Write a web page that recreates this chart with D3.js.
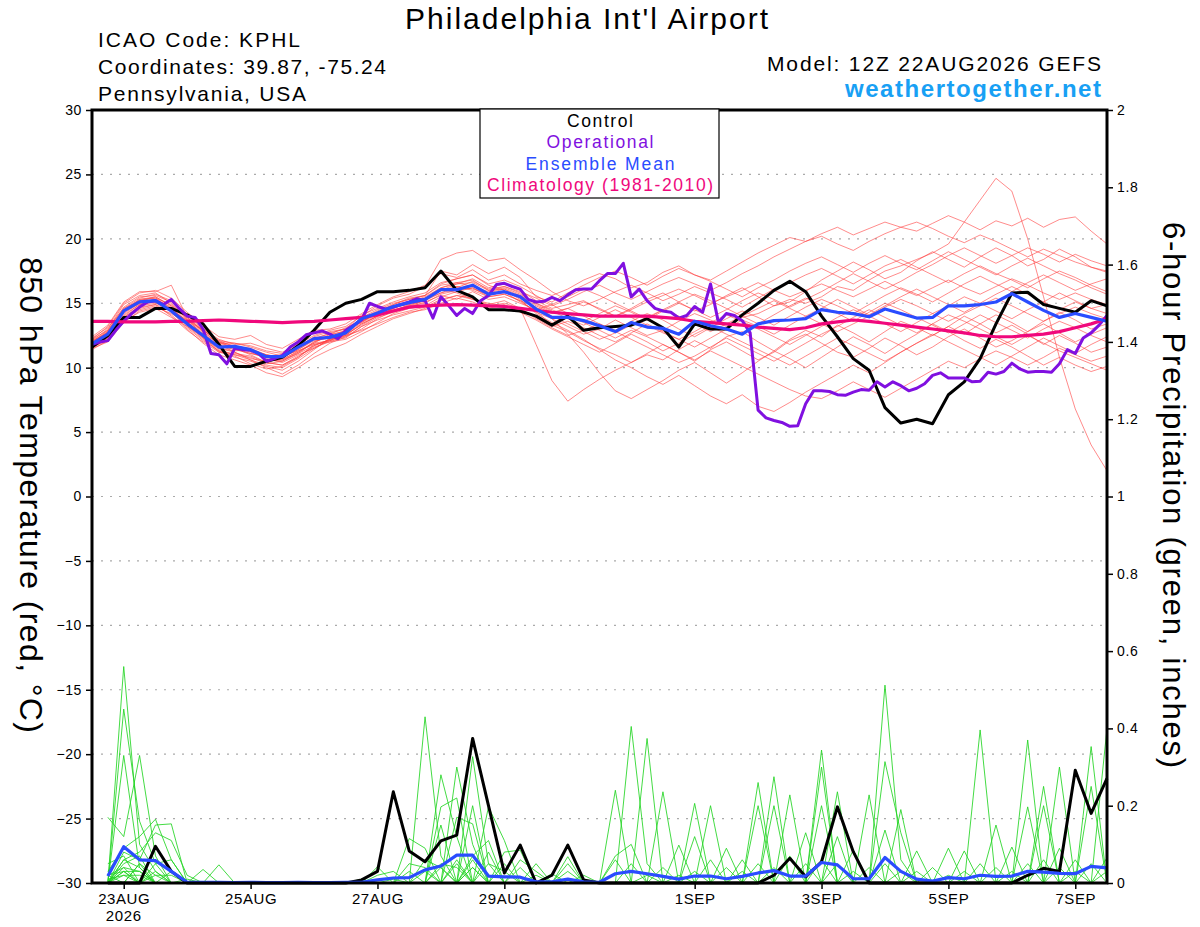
<!DOCTYPE html>
<html>
<head>
<meta charset="utf-8">
<script src="https://cdnjs.cloudflare.com/ajax/libs/d3/7.8.5/d3.min.js"></script>
<style>
  body { margin: 0; background: #fff; }
  svg { font-family: "Liberation Sans", Arial, Helvetica, sans-serif; }
</style>
</head>
<body>
<div id="chart"></div>
<script>
// ---- data: GEFS 12Z 22AUG2026, Philadelphia (KPHL) ----
// temperature series are 6-hourly from 12Z 22AUG (65 values), operational is 3-hourly (129 values)
// precipitation series are 6-hour totals ending at +6h ... +384h (64 values)

const controlTemp = [11.6, 12.5, 13.9, 13.9, 14.6, 14.6, 14.1, 13.4, 11.8,
  10.1, 10.1, 10.5, 10.8, 11.7, 12.9, 14.3, 15.0,
  15.3, 15.9, 15.9, 16.0, 16.2, 17.5, 16.0, 15.5, 14.5, 14.5, 14.4, 14.0,
  13.3, 14.0, 12.9, 13.1, 13.2, 13.3, 13.8, 13.1, 11.6, 13.4, 13.0, 13.0, 14.1, 15.0, 16.0, 16.7, 15.9,
  14.0, 12.4, 10.7, 9.8, 6.9, 5.7, 6.0, 5.65, 7.9, 8.9, 10.7, 13.4, 15.8, 15.85, 14.9, 14.6, 14.3, 15.2, 14.8];

const meanTemp = [11.85, 12.6, 14.4, 15.1, 15.2, 14.4, 13.4, 12.5, 11.6,
  11.65, 11.4, 10.85, 10.85, 11.6, 12.25, 12.35, 12.7,
  13.8, 14.25, 14.75, 15.05, 15.3, 16.05, 16.05, 16.4, 15.7, 15.9, 15.5, 14.55,
  13.9, 13.9, 13.65, 13.25, 12.8, 13.5, 13.15, 13.05, 12.6, 13.6, 13.25, 13.0, 12.6, 13.4, 13.65, 13.7, 13.8,
  14.5, 14.3, 14.2, 13.95, 14.55, 14.2, 13.85, 13.9, 14.8, 14.8, 14.9, 15.1, 15.75, 15.1, 14.45, 13.9, 14.2, 13.9, 13.6];

const climoTemp = [13.6, 13.6, 13.55, 13.55, 13.55, 13.6, 13.6, 13.65, 13.7,
  13.65, 13.6, 13.55, 13.5, 13.55, 13.6, 13.7, 13.8,
  13.9, 14.1, 14.4, 14.7, 14.8, 14.85, 14.9, 14.85, 14.8, 14.75, 14.6, 14.45,
  14.3, 14.2, 14.1, 14.0, 14.0, 14.0, 14.0, 13.9, 13.8, 13.6, 13.5, 13.4, 13.3, 13.15, 13.05, 12.95, 13.1,
  13.4, 13.55, 13.7, 13.6, 13.45, 13.3, 13.15, 13.0, 12.85, 12.7, 12.5, 12.4, 12.4, 12.5, 12.6, 12.8, 13.1, 13.4, 13.8];

const operTemp = [11.8, 12.0, 12.1, 12.9, 13.6, 14.2, 14.7, 15.1, 15.2, 14.9,
  15.3, 14.6, 14.0, 13.9, 13.0, 11.1, 11.0, 10.3, 11.5, 11.4,
  11.35, 11.1, 10.5, 10.7, 10.95, 11.6, 12.0, 12.55, 12.7, 12.85,
  12.6, 12.25, 12.9, 13.3, 13.7, 15.0, 14.75, 14.55, 14.7, 14.9,
  15.1, 15.35, 15.2, 13.85, 15.5, 14.8, 14.05, 14.6, 14.2, 15.2,
  15.6, 16.45, 16.55, 16.3, 16.1, 15.3, 15.1, 15.15, 15.45, 15.2,
  15.65, 16.05, 16.1, 16.1, 16.75, 17.3, 17.3, 18.1, 15.5, 16.1,
  15.2, 14.6, 14.4, 14.3, 13.85, 14.05, 14.75, 14.3, 16.5, 13.5,
  14.2, 14.05, 13.65, 12.7, 6.7, 6.1, 5.9, 5.75, 5.45, 5.5,
  7.2, 8.2, 8.2, 8.15, 7.9, 7.85, 8.1, 8.3, 8.25, 8.9,
  8.5, 8.9, 8.6, 8.2, 8.4, 8.75, 9.4, 9.6, 9.2, 9.2,
  9.2, 8.9, 8.95, 9.65, 9.5, 9.7, 10.35, 9.9, 9.65, 9.7,
  9.7, 9.65, 10.3, 11.4, 11.1, 12.3, 12.7, 13.3, 14.05];

// ensemble members, 850 hPa temperature (C)
const tempMember01 = [12.1, 13.0, 14.9, 15.6, 15.8, 15.0, 13.8, 12.9, 12.0, 11.5, 11.0, 10.4, 10.2, 10.9, 11.6, 12.0, 12.5, 13.4, 14.0, 14.6, 15.0, 15.4, 16.0, 16.5, 16.9, 16.2, 16.5, 16.0, 15.2, 14.6, 14.9, 15.2, 14.5, 14.0, 14.6, 15.3, 15.8, 15.1, 14.4, 14.9, 15.6, 16.2, 15.5, 14.8, 15.1, 15.9, 16.8, 17.5, 18.2, 17.6, 16.9, 17.4, 18.3, 19.0, 18.4, 17.8, 18.6, 19.3, 18.7, 17.9, 18.4, 19.2, 18.6, 17.8, 17.5];
const tempMember02 = [11.7, 12.3, 13.9, 14.8, 15.0, 14.5, 13.6, 12.4, 11.2, 10.9, 10.3, 9.9, 10.1, 10.8, 11.8, 12.1, 12.6, 13.5, 14.3, 14.7, 14.9, 15.2, 16.1, 15.8, 15.3, 15.0, 14.8, 14.6, 11.8, 9.0, 7.4, 8.3, 9.1, 9.8, 10.4, 11.0, 10.6, 11.4, 12.1, 11.5, 12.4, 12.8, 12.0, 11.3, 12.2, 12.9, 12.4, 13.3, 12.7, 12.0, 12.8, 13.6, 13.1, 12.5, 13.2, 14.0, 13.4, 12.7, 13.3, 12.6, 11.8, 12.5, 11.9, 11.2, 11.6];
const tempMember03 = [12.0, 12.8, 14.5, 15.3, 15.5, 14.8, 13.9, 12.8, 11.8, 11.2, 10.6, 10.0, 9.5, 10.2, 11.1, 11.9, 12.4, 13.0, 13.8, 14.4, 14.9, 15.2, 15.8, 16.3, 16.0, 15.5, 15.7, 15.2, 14.3, 13.8, 13.2, 12.6, 13.0, 13.7, 13.1, 12.5, 12.9, 13.6, 14.2, 13.7, 13.2, 13.9, 14.2, 14.8, 15.3, 15.0, 15.5, 16.3, 16.0, 16.8, 17.5, 17.9, 18.4, 18.9, 19.6, 21.3, 23.0, 24.7, 23.7, 20.0, 15.5, 10.8, 6.8, 4.0, 2.0];
const tempMember04 = [12.2, 13.2, 15.0, 15.8, 16.0, 15.4, 14.3, 13.3, 12.4, 12.2, 12.5, 11.8, 11.5, 12.2, 12.9, 13.0, 13.4, 14.2, 14.9, 15.5, 15.9, 16.4, 17.3, 17.0, 17.6, 16.8, 17.2, 16.5, 16.0, 15.6, 16.1, 16.8, 17.3, 16.9, 16.2, 16.6, 17.4, 17.9, 17.2, 16.8, 17.5, 18.2, 18.9, 19.5, 20.1, 19.8, 20.4, 20.9, 20.3, 20.8, 21.3, 20.9, 20.6, 21.2, 21.8, 21.3, 20.7, 21.4, 21.0, 21.6, 20.9, 21.5, 21.7, 20.6, 19.6];
const tempMember05 = [11.5, 12.0, 13.5, 14.4, 14.7, 14.2, 13.5, 12.6, 11.9, 11.9, 11.6, 11.2, 10.9, 11.3, 11.8, 12.0, 12.2, 12.8, 13.5, 14.2, 14.6, 14.8, 15.5, 15.9, 16.2, 15.6, 15.9, 15.1, 14.4, 13.3, 12.8, 12.1, 11.5, 11.0, 10.4, 11.1, 11.8, 11.2, 10.5, 11.4, 12.0, 11.3, 10.6, 11.2, 12.1, 12.6, 11.9, 11.2, 10.8, 11.5, 12.3, 11.7, 11.0, 11.6, 12.4, 13.0, 12.3, 11.6, 12.1, 12.8, 13.4, 12.7, 12.0, 12.6, 13.1];
const tempMember06 = [11.9, 12.5, 14.2, 15.0, 15.1, 14.3, 13.1, 12.1, 11.3, 10.8, 10.5, 10.1, 9.8, 10.5, 11.4, 12.3, 12.9, 13.9, 14.5, 15.0, 15.3, 15.6, 16.5, 16.9, 17.2, 16.4, 16.0, 15.3, 14.2, 13.5, 12.9, 12.2, 11.4, 10.6, 10.0, 9.3, 8.7, 9.4, 8.6, 7.8, 7.2, 7.9, 7.0, 6.6, 7.3, 8.1, 8.8, 9.5, 10.2, 9.6, 10.4, 11.2, 11.9, 12.5, 13.2, 12.6, 13.4, 14.1, 13.5, 12.8, 13.6, 14.3, 13.7, 13.0, 13.4];
const tempMember07 = [12.3, 13.1, 14.6, 15.2, 15.4, 14.6, 13.6, 12.7, 11.5, 11.3, 11.4, 10.6, 10.5, 11.1, 12.0, 12.5, 12.9, 13.8, 14.4, 14.9, 15.3, 15.6, 16.4, 16.6, 16.8, 16.0, 16.3, 15.8, 14.9, 14.3, 14.6, 14.0, 13.4, 12.9, 13.6, 14.2, 13.7, 13.0, 12.4, 13.1, 13.8, 14.4, 13.9, 13.3, 14.0, 14.7, 15.3, 14.8, 14.2, 14.9, 15.6, 16.2, 15.7, 15.1, 15.8, 16.5, 17.1, 16.5, 15.9, 16.6, 17.2, 16.6, 16.0, 16.5, 16.9];
const tempMember08 = [11.6, 12.4, 14.0, 14.9, 15.1, 14.5, 13.3, 12.3, 11.4, 11.0, 10.8, 10.3, 10.5, 11.2, 11.9, 12.1, 12.3, 13.2, 13.9, 14.3, 14.7, 15.1, 15.6, 15.3, 15.9, 15.3, 15.5, 15.0, 14.5, 14.9, 15.5, 16.1, 15.6, 15.0, 14.4, 13.8, 14.5, 15.1, 15.7, 15.2, 14.6, 14.0, 13.4, 14.1, 14.8, 15.4, 14.8, 14.2, 13.6, 14.3, 15.0, 14.5, 13.9, 13.3, 12.7, 13.4, 14.1, 13.5, 12.9, 12.3, 13.0, 13.6, 13.1, 12.5, 12.0];
const tempMember09 = [11.8, 12.2, 13.8, 14.6, 14.9, 14.4, 13.7, 12.9, 12.1, 11.6, 11.2, 10.7, 10.4, 11.0, 11.5, 12.1, 12.7, 13.6, 14.2, 14.8, 15.0, 15.3, 15.8, 16.1, 16.4, 15.8, 16.1, 15.4, 14.6, 13.8, 12.6, 11.2, 9.6, 8.2, 7.6, 8.3, 9.0, 9.8, 10.4, 9.6, 8.8, 9.6, 10.5, 11.3, 10.7, 10.0, 10.8, 11.6, 12.4, 11.8, 11.1, 11.9, 12.6, 13.4, 12.8, 12.1, 11.5, 12.2, 11.6, 10.9, 10.2, 10.8, 10.2, 9.7, 10.1];
const tempMember10 = [12.0, 12.9, 14.7, 15.5, 15.6, 15.1, 14.0, 13.0, 12.2, 11.8, 11.9, 11.5, 11.2, 11.8, 12.5, 12.9, 13.2, 14.0, 14.8, 15.4, 15.7, 16.3, 18.4, 18.9, 19.1, 18.3, 18.5, 17.6, 16.8, 15.9, 15.2, 14.8, 15.3, 15.9, 16.4, 15.8, 15.2, 15.7, 16.3, 15.8, 15.3, 14.7, 15.4, 16.1, 16.6, 17.2, 17.7, 17.1, 16.5, 17.2, 17.9, 18.4, 17.8, 17.2, 16.6, 17.3, 17.9, 17.3, 16.8, 16.2, 16.9, 17.5, 17.0, 16.4, 15.9];
const tempMember11 = [11.4, 12.1, 13.7, 14.5, 14.8, 14.1, 13.0, 11.9, 11.0, 10.6, 10.2, 9.6, 9.3, 10.0, 10.8, 11.4, 11.9, 12.6, 13.2, 13.8, 14.2, 14.6, 15.2, 15.6, 15.3, 14.9, 15.2, 14.6, 13.9, 13.2, 13.6, 13.1, 12.5, 12.0, 12.7, 13.4, 12.8, 12.2, 11.6, 12.3, 13.0, 13.7, 13.2, 12.6, 13.3, 14.0, 14.6, 15.3, 14.7, 14.1, 14.8, 15.5, 16.1, 15.5, 14.9, 14.3, 15.0, 15.7, 16.3, 15.7, 15.1, 14.5, 15.1, 14.6, 14.2];
const tempMember12 = [12.1, 12.7, 14.3, 15.0, 15.3, 14.7, 13.5, 12.6, 11.7, 11.4, 11.1, 10.8, 10.6, 11.3, 11.9, 12.6, 13.1, 13.7, 14.1, 14.6, 15.1, 15.3, 16.0, 16.2, 16.7, 16.1, 16.3, 15.9, 15.4, 14.8, 15.3, 15.9, 16.4, 15.8, 15.3, 15.9, 16.5, 17.0, 16.5, 16.0, 16.6, 17.3, 17.9, 18.6, 19.2, 19.8, 20.2, 19.6, 19.1, 19.8, 20.4, 20.9, 21.3, 20.8, 20.2, 19.7, 20.3, 19.8, 19.2, 18.6, 19.2, 18.7, 18.2, 17.8, 17.4];
const tempMember13 = [11.7, 12.6, 14.4, 15.3, 15.4, 14.9, 13.8, 12.5, 11.6, 11.5, 11.1, 10.9, 11.0, 11.6, 12.4, 12.8, 13.0, 13.5, 14.1, 14.5, 14.8, 15.2, 16.0, 16.3, 16.1, 15.7, 15.8, 15.6, 15.0, 14.4, 13.8, 13.3, 13.9, 14.5, 13.9, 13.3, 12.7, 12.2, 12.8, 13.5, 14.1, 13.6, 13.0, 12.4, 11.8, 12.5, 13.2, 13.9, 14.5, 14.0, 13.4, 12.8, 13.5, 14.2, 14.8, 15.5, 15.0, 14.4, 13.8, 14.5, 15.1, 15.8, 15.2, 14.6, 14.9];
const tempMember14 = [12.2, 12.9, 14.5, 15.1, 15.3, 14.4, 13.2, 12.2, 11.3, 11.0, 10.6, 10.2, 10.0, 10.7, 11.5, 12.2, 12.6, 13.3, 14.0, 14.6, 15.1, 15.5, 16.2, 16.6, 16.3, 15.9, 16.2, 15.7, 15.0, 14.5, 14.0, 13.5, 12.9, 12.3, 12.9, 12.4, 11.8, 11.2, 10.6, 11.3, 10.7, 10.1, 9.5, 8.9, 8.3, 7.8, 7.6, 8.2, 8.9, 8.3, 7.7, 8.4, 9.1, 9.8, 10.5, 10.0, 10.7, 11.3, 10.8, 10.2, 10.8, 11.5, 11.0, 10.5, 10.9];
const tempMember15 = [11.9, 12.8, 14.6, 15.4, 15.7, 15.2, 14.1, 13.1, 12.0, 11.7, 11.3, 11.0, 10.8, 11.4, 12.2, 12.7, 13.0, 14.1, 14.6, 15.1, 15.5, 15.8, 16.6, 16.9, 17.2, 16.5, 16.8, 16.3, 15.6, 14.9, 14.2, 13.6, 14.2, 14.8, 14.3, 13.7, 14.4, 15.0, 14.5, 13.9, 14.5, 15.2, 15.8, 15.3, 14.7, 15.3, 15.9, 16.6, 17.3, 16.7, 16.1, 16.7, 17.4, 18.0, 18.7, 19.3, 18.7, 18.1, 18.7, 19.3, 18.8, 18.2, 18.8, 18.3, 17.9];
const tempMember16 = [11.5, 12.3, 13.9, 14.7, 14.9, 14.0, 12.9, 12.0, 11.2, 11.1, 10.9, 10.4, 10.2, 10.8, 11.7, 12.2, 12.4, 13.2, 13.7, 14.1, 14.4, 14.7, 15.3, 15.6, 15.4, 14.8, 15.0, 14.6, 13.8, 13.1, 12.5, 12.9, 13.4, 12.8, 12.2, 11.6, 11.0, 10.4, 10.9, 11.6, 12.3, 11.7, 11.1, 10.5, 11.2, 11.9, 12.6, 13.2, 13.9, 14.5, 13.9, 13.3, 12.7, 13.4, 14.1, 13.6, 13.0, 12.4, 11.8, 12.5, 11.9, 11.3, 10.8, 10.3, 9.8];
const tempMember17 = [12.4, 13.3, 15.1, 15.9, 15.9, 16.4, 13.9, 12.9, 12.1, 11.9, 11.7, 11.3, 11.1, 11.7, 12.3, 12.6, 12.8, 13.6, 14.2, 14.9, 15.4, 15.6, 17.5, 17.2, 18.0, 17.3, 17.8, 17.0, 15.5, 15.1, 15.8, 16.4, 17.0, 17.5, 17.0, 16.4, 17.1, 17.7, 17.2, 16.7, 16.1, 15.5, 16.2, 16.8, 17.5, 18.1, 18.6, 18.0, 17.4, 18.1, 18.7, 18.1, 17.6, 18.3, 19.0, 18.4, 17.8, 17.2, 17.9, 18.5, 17.9, 17.3, 16.8, 16.2, 15.7];
const tempMember18 = [11.6, 12.1, 13.6, 14.3, 14.6, 13.9, 13.2, 12.4, 11.8, 11.6, 11.5, 11.0, 10.8, 11.4, 12.1, 12.3, 12.5, 12.9, 13.4, 13.9, 14.3, 14.5, 15.0, 15.4, 15.1, 14.6, 14.9, 14.3, 13.7, 13.0, 12.4, 11.8, 11.2, 11.9, 12.6, 12.0, 11.3, 11.9, 12.6, 13.2, 12.6, 12.0, 11.4, 10.8, 10.2, 10.9, 11.6, 12.3, 11.7, 11.1, 10.5, 11.2, 11.9, 12.6, 12.0, 11.4, 10.8, 10.2, 10.9, 11.6, 12.3, 11.7, 11.1, 11.8, 12.4];
const tempMember19 = [12.0, 12.7, 14.4, 15.2, 15.5, 14.8, 13.7, 12.8, 11.9, 11.6, 11.4, 11.0, 10.7, 11.2, 12.0, 12.4, 12.8, 13.6, 14.2, 14.7, 15.1, 15.4, 16.2, 16.5, 16.6, 16.0, 16.1, 15.6, 14.8, 14.2, 14.6, 15.1, 14.6, 14.0, 14.5, 15.1, 15.6, 16.1, 15.6, 15.0, 15.5, 16.0, 16.6, 16.0, 15.5, 16.0, 16.5, 16.0, 15.5, 16.1, 16.7, 16.1, 15.6, 16.2, 16.8, 16.2, 15.7, 16.3, 16.9, 16.4, 15.8, 15.3, 15.8, 15.3, 14.9];
const tempMember20 = [11.8, 12.4, 14.1, 14.9, 15.2, 14.6, 13.4, 12.3, 11.5, 11.2, 10.7, 10.5, 10.6, 11.1, 11.7, 12.2, 12.5, 13.4, 14.0, 14.4, 14.8, 15.0, 15.7, 16.0, 16.2, 15.5, 15.7, 15.2, 14.7, 14.0, 13.4, 12.8, 12.2, 12.7, 13.3, 13.9, 14.5, 14.0, 13.4, 12.8, 13.4, 14.0, 14.6, 15.2, 14.6, 14.0, 13.4, 12.8, 13.4, 14.0, 14.7, 15.3, 14.8, 14.2, 13.6, 14.2, 14.8, 15.4, 14.8, 14.2, 13.6, 14.2, 14.7, 14.2, 13.8];

// 6-hour precipitation (inches)
const controlPrecip = [0,0,0,.095,.03,0,0,0, 0,0,0,0,0,0,0,0, .008,.03,.236,.083,.055,.109,.124,.374, .2,.026,.098,0,.02,.098,.008,0, 0,0,0,0,0,0,0,0, 0,0,.02,.064,.016,.055,.197,.081, 0,0,0,0,0,0,0,0, 0,0,.02,.038,.03,.292,.18,.271];
const meanPrecip = [.018,.094,.06,.058,.03,.002,.002,.002, .001,.002,.001,.001,.002,.001,.001,.002, .002,.008,.013,.014,.034,.044,.072,.072, .018,.016,.015,.003,.003,.01,.003,.002, .024,.03,.024,.017,.01,.018,.018,.011, .017,.026,.032,.018,.018,.053,.047,.011, .011,.066,.03,.01,.005,.014,.011,.02, .017,.018,.03,.028,.025,.024,.043,.039];

const precipMember01 = [0,.56,.10,.03,0,0,0,0, 0,0,0,0,0,0,0,0, 0,0,0,0,.43,.07,0,0, 0,0,0,0,0,0,0,0, 0,.405,.05,0,0,0,0,0, 0,0,0,0,0,0,0,0, 0,.512,.06,0,0,0,0,0, 0,0,.05,0,0,0,0,0];
const precipMember02 = [0,.45,.16,.05,0,0,0,0, 0,0,0,0,0,0,0,0, 0,0,0,0,0,0,.30,.10, 0,0,0,0,0,0,0,0, 0,0,.374,0,0,0,0,0, 0,0,0,0,0,.06,0,0, 0,0,0,0,0,0,0,.396, 0,0,0,0,0,0,0,.40];
const precipMember03 = [0,.33,.04,0,0,0,0,0, 0,0,0,0,0,0,0,0, 0,0,0,0,0,.28,.12,0, 0,0,0,0,0,0,0,0, .24,0,0,0,0,0,0,0, 0,.26,0,0,0,0,0,0, 0,.314,.13,0,0,0,0,0, 0,0,0,0,0,0,.353,0];
const precipMember04 = [.17,.12,.33,.07,0,0,0,0, 0,0,0,0,0,0,0,0, 0,0,0,0,0,0,0,.327, .05,0,0,0,0,0,0,0, 0,0,0,.236,0,0,0,0, 0,0,0,0,0,.344,0,0, 0,0,0,0,0,0,0,0, 0,0,.37,0,0,0,0,0];
const precipMember05 = [.03,.09,.12,.165,.06,0,0,0, 0,0,0,0,0,0,0,0, 0,0,0,0,0,.197,.22,0, 0,0,0,0,0,0,0,0, 0,0,0,0,0,.206,0,0, 0,0,.275,0,0,0,0,0, 0,0,0,0,0,0,0,0, 0,0,0,0,.30,0,0,0];
const precipMember06 = [0,.08,.06,.15,.153,0,0,0, 0,0,0,0,0,0,0,0, 0,0,0,0,0,0,0,0, .197,.11,0,0,0,0,0,0, 0,0,0,0,0,0,.2,0, 0,0,0,0,0,.3,0,0, 0,0,0,0,0,0,0,0, 0,0,0,.25,0,0,0,0];
const precipMember07 = [0,.06,.08,.13,.11,.02,0,0, 0,0,0,0,0,0,0,0, 0,0,0,.115,.09,0,0,.2, 0,0,0,0,0,0,0,0, 0,0,0,0,0,0,0,0, 0,0,0,.228,0,0,.236,0, 0,0,0,0,0,0,0,0, 0,0,0,0,0,0,.25,0];
const precipMember08 = [.02,.04,0,0,.03,0,.035,0, 0,0,0,0,0,0,0,0, 0,0,0,0,0,0,.17,.153, 0,0,0,0,0,0,0,0, .07,.1,0,0,0,0,0,0, 0,0,0,0,0,0,0,0, .228,0,0,0,0,0,0,0, .15,0,0,0,0,0,0,.065];
const precipMember09 = [0,.03,.03,0,0,0,0,.047, 0,0,0,0,0,0,0,0, 0,.042,0,0,0,.15,0,0, 0,.08,.085,0,0,0,0,0, 0,0,0,0,0,.12,0,0, 0,.2,0,0,0,0,0,0, 0,0,0,0,0,.09,0,0, 0,0,0,0,0,0,0,0];
const precipMember10 = [.01,.02,0,.03,0,0,0,0, 0,0,0,0,0,0,0,0, 0,0,0,0,.06,.04,0,0, 0,0,0,0,0,.068,0,0, 0,0,0,0,0,0,0,0, 0,0,.2,0,0,0,0,0, 0,.137,0,0,0,0,.083,0, 0,0,.197,0,0,0,0,0];
const precipMember11 = [.05,.07,0,0,0,0,0,0, 0,0,0,0,0,0,0,0, 0,0,0,0,0,0,0,.07, .11,0,0,0,0,0,0,0, 0,0,0,0,.098,0,0,0, 0,0,0,0,0,.2,0,0, 0,0,.19,0,0,0,0,0, 0,0,0,.2,0,0,0,0];
const precipMember12 = [.02,0,.05,0,0,.01,0,0, 0,0,0,0,0,0,0,0, 0,0,0,.05,.04,0,0,0, 0,0,0,.05,0,0,0,0, 0,0,0,0,0,0,0,0, 0,0,0,0,.13,0,0,0, 0,0,0,.083,0,0,0,0, 0,.093,0,0,.09,0,0,0];
const precipMember13 = [0,.05,.07,0,0,0,0,0, 0,0,0,0,0,0,0,0, 0,.02,.03,0,0,0,.06,0, 0,0,.06,.03,0,0,0,0, 0,0,0,0,0,0,0,.09, 0,0,0,0,0,0,.12,0, 0,0,0,0,0,0,0,0, 0,0,0,0,0,.06,0,0];
const precipMember14 = [0,0,0,.05,.06,0,0,0, 0,0,0,0,0,0,0,0, 0,0,0,0,0,0,0,.04, 0,.05,0,0,0,.05,0,0, .06,0,0,0,0,0,0,0, .06,0,0,0,0,0,0,.085, 0,0,0,0,0,0,0,.05, 0,0,0,0,0,0,0,0];
const precipMember15 = [0,.04,.03,0,0,0,0,0, 0,0,0,0,0,0,0,0, 0,0,0,0,0,.04,0,0, .08,0,0,0,.024,0,0,0, 0,0,0,.04,0,0,0,0, 0,0,0,.07,0,0,0,0, .04,0,0,0,0,0,0,0, 0,0,0,.06,0,0,0,0];
const precipMember16 = [.02,.03,0,0,0,0,0,0, 0,0,0,0,0,0,0,0, .01,0,0,.03,0,0,.05,0, 0,0,.04,0,0,0,.02,0, 0,0,0,0,0,0,.06,0, 0,.05,0,0,0,0,0,0, 0,0,0,0,.04,0,0,0, .04,0,0,0,0,0,0,0];
const precipMember17 = [0,.02,.02,0,0,0,0,0, 0,0,0,0,0,0,0,0, 0,0,0,0,0,0,0,0, .05,.03,0,0,0,.03,0,0, 0,0,.02,0,0,0,0,0, 0,0,0,0,.05,0,0,0, 0,.05,0,0,0,0,0,0, 0,.03,0,0,0,0,.05,0];
const precipMember18 = [0,0,.05,.02,0,0,0,0, 0,0,0,0,0,0,0,0, 0,0,0,0,.03,0,0,.06, 0,0,0,0,0,0,0,0, 0,.05,0,0,0,.03,0,0, 0,0,.04,0,0,0,0,0, 0,0,0,.03,0,0,.03,0, 0,0,0,0,0,0,0,.03];
const precipMember19 = [0,.06,.04,0,0,0,0,0, 0,0,0,0,0,0,0,0, 0,0,0,0,0,.05,.04,0, 0,0,0,0,0,0,0,0, 0,0,0,0,.02,0,0,.04, 0,0,0,0,0,0,.05,0, 0,0,0,0,0,.02,0,0, 0,0,0,0,.04,0,0,0];
const precipMember20 = [0,.03,0,.02,.02,0,0,0, 0,0,0,0,0,0,0,0, 0,0,.01,0,0,0,0,.04, 0,0,0,.02,0,0,0,0, 0,0,0,0,0,0,0,0, .03,0,0,0,0,0,0,.03, 0,0,.03,0,0,0,0,0, 0,0,0,0,0,.03,0,0];

const tempMembers = [tempMember01, tempMember02, tempMember03, tempMember04, tempMember05,
  tempMember06, tempMember07, tempMember08, tempMember09, tempMember10, tempMember11,
  tempMember12, tempMember13, tempMember14, tempMember15, tempMember16, tempMember17,
  tempMember18, tempMember19, tempMember20];
const precipMembers = [precipMember01, precipMember02, precipMember03, precipMember04,
  precipMember05, precipMember06, precipMember07, precipMember08, precipMember09,
  precipMember10, precipMember11, precipMember12, precipMember13, precipMember14,
  precipMember15, precipMember16, precipMember17, precipMember18, precipMember19,
  precipMember20];

const tempTicks = d3.range(-30, 31, 5);
const gridTicks = d3.range(-25, 26, 5);
const precipTicks = [0, 0.2, 0.4, 0.6, 0.8, 1, 1.2, 1.4, 1.6, 1.8, 2];
const dateTicks = [[2026, 7, 23], [2026, 7, 25], [2026, 7, 27], [2026, 7, 29],
  [2026, 8, 1], [2026, 8, 3], [2026, 8, 5], [2026, 8, 7]].map(d => new Date(Date.UTC(d[0], d[1], d[2])));

const legendItems = [
  {label: "Control", color: "#000000", width: 66},
  {label: "Operational", color: "#8010e0", width: 107},
  {label: "Ensemble Mean", color: "#2a4cff", width: 149},
  {label: "Climatology (1981-2010)", color: "#f0087c", width: 226}
];

// ---- layout ----
const W = 1200, H = 927;
const margin = {top: 110, right: 93, bottom: 44, left: 92};
const width = W - margin.left - margin.right;
const height = H - margin.top - margin.bottom;

const hourMs = 3600 * 1000;
const t0 = Date.UTC(2026, 7, 22, 12);
const times6 = d3.range(65).map(i => new Date(t0 + i * 6 * hourMs));
const times3 = d3.range(129).map(i => new Date(t0 + i * 3 * hourMs));
const timesPrecip = d3.range(1, 65).map(i => new Date(t0 + i * 6 * hourMs));

[controlTemp, meanTemp, climoTemp, ...tempMembers].forEach((s, i) => {
  if (s.length !== 65) throw new Error("temp series " + i + " has " + s.length);
});
[controlPrecip, meanPrecip, ...precipMembers].forEach((s, i) => {
  if (s.length !== 64) throw new Error("precip series " + i + " has " + s.length);
});
if (operTemp.length !== 129) throw new Error("operational has " + operTemp.length);

const xScale = d3.scaleUtc()
  .domain([new Date(t0), new Date(t0 + 384 * hourMs)])
  .range([0, width]);
const yTemp = d3.scaleLinear().domain([-30, 30]).range([height, 0]);
const yPrecip = d3.scaleLinear().domain([0, 2]).range([height, 0]);

const svg = d3.select("#chart").append("svg")
  .attr("width", W)
  .attr("height", H);

svg.append("rect").attr("width", W).attr("height", H).attr("fill", "#fff");

// header texts, stretched to the widths seen in the original render
function headerText(txt, x, y, size, anchor, len, opts) {
  const t = svg.append("text")
    .attr("x", x).attr("y", y)
    .attr("font-size", size)
    .attr("text-anchor", anchor)
    .attr("textLength", len)
    .attr("lengthAdjust", "spacing")
    .text(txt);
  if (opts && opts.fill) t.attr("fill", opts.fill);
  if (opts && opts.bold) t.attr("font-weight", "bold");
  return t;
}

headerText("Philadelphia Int'l Airport", 405, 29, 30, "start", 363);
headerText("ICAO Code: KPHL", 98, 47, 21, "start", 202);
headerText("Coordinates: 39.87, -75.24", 98, 74, 21, "start", 288);
headerText("Pennsylvania, USA", 98, 101, 21, "start", 208);
headerText("Model: 12Z 22AUG2026 GEFS", 1101, 71, 21, "end", 334);
headerText("weathertogether.net", 1101, 97, 24, "end", 256, {fill: "#18a0f4", bold: true});

// axis titles
svg.append("text")
  .attr("transform", "translate(20,495) rotate(90)")
  .attr("text-anchor", "middle")
  .attr("font-size", 32)
  .attr("textLength", 476)
  .attr("lengthAdjust", "spacing")
  .text("850 hPa Temperature (red, \u00B0C)");

svg.append("text")
  .attr("transform", "translate(1163,495) rotate(90)")
  .attr("text-anchor", "middle")
  .attr("font-size", 31)
  .attr("textLength", 546)
  .attr("lengthAdjust", "spacing")
  .text("6-hour Precipitation (green, inches)");

const plot = svg.append("g")
  .attr("class", "plotG")
  .attr("transform", "translate(" + margin.left + "," + margin.top + ")");

// dotted grid on temperature ticks
plot.append("g").attr("class", "gridG")
  .selectAll("line")
  .data(gridTicks)
  .join("line")
  .attr("x1", 0).attr("x2", width)
  .attr("y1", d => yTemp(d)).attr("y2", d => yTemp(d))
  .attr("stroke", "#aaaaaa")
  .attr("stroke-width", 1.2)
  .attr("stroke-dasharray", "2,7");

const lineTemp = d3.line().x((d, i) => xScale(times6[i])).y(d => yTemp(d));
const lineOper = d3.line().x((d, i) => xScale(times3[i])).y(d => yTemp(d));
const linePrecip = d3.line().x((d, i) => xScale(timesPrecip[i])).y(d => yPrecip(d));

// ensemble members
plot.append("g").attr("class", "tempMembersG")
  .selectAll("path")
  .data(tempMembers)
  .join("path")
  .attr("d", lineTemp)
  .attr("fill", "none")
  .attr("stroke", "#ff3b3b")
  .attr("stroke-opacity", 0.7)
  .attr("stroke-width", 0.85);

plot.append("g").attr("class", "precipMembersG")
  .selectAll("path")
  .data(precipMembers)
  .join("path")
  .attr("d", linePrecip)
  .attr("fill", "none")
  .attr("stroke", "#22d422")
  .attr("stroke-width", 0.85);

// control, operational, climatology, mean
plot.append("path").datum(controlPrecip)
  .attr("d", linePrecip).attr("fill", "none")
  .attr("stroke", "#000").attr("stroke-width", 3).attr("stroke-linejoin", "round");
plot.append("path").datum(meanPrecip)
  .attr("d", linePrecip).attr("fill", "none")
  .attr("stroke", "#2a4cff").attr("stroke-width", 3.2).attr("stroke-linejoin", "round");

plot.append("path").datum(controlTemp)
  .attr("d", lineTemp).attr("fill", "none")
  .attr("stroke", "#000").attr("stroke-width", 3).attr("stroke-linejoin", "round");
plot.append("path").datum(operTemp)
  .attr("d", lineOper).attr("fill", "none")
  .attr("stroke", "#8010e0").attr("stroke-width", 3).attr("stroke-linejoin", "round");
plot.append("path").datum(climoTemp)
  .attr("d", lineTemp).attr("fill", "none")
  .attr("stroke", "#f0087c").attr("stroke-width", 3.2).attr("stroke-linejoin", "round");
plot.append("path").datum(meanTemp)
  .attr("d", lineTemp).attr("fill", "none")
  .attr("stroke", "#2a4cff").attr("stroke-width", 3.2).attr("stroke-linejoin", "round");

// axes
const axisLeft = d3.axisLeft(yTemp).tickValues(tempTicks).tickSize(6).tickPadding(4);
const axisRight = d3.axisRight(yPrecip).tickValues(precipTicks).tickSize(6).tickPadding(4)
  .tickFormat(d => String(+d.toFixed(1)));
const fmtDate = d3.utcFormat("%-d%b");
const axisBottom = d3.axisBottom(xScale).tickValues(dateTicks).tickSize(6).tickPadding(4)
  .tickFormat(d => fmtDate(d).toUpperCase());

function styleAxis(g, size) {
  g.select(".domain").remove();
  g.selectAll(".tick line").attr("stroke", "#000").attr("stroke-width", 1.5);
  g.selectAll(".tick text").attr("font-size", size).attr("fill", "#000")
    .attr("font-family", "'Liberation Sans', Arial, sans-serif")
    .attr("letter-spacing", 0.6);
}

plot.append("g").attr("class", "yAxisG").call(axisLeft).call(g => styleAxis(g, 14));
plot.append("g").attr("class", "y2AxisG")
  .attr("transform", "translate(" + width + ",0)")
  .call(axisRight).call(g => styleAxis(g, 14));
const xAxisG = plot.append("g").attr("class", "xAxisG")
  .attr("transform", "translate(0," + height + ")")
  .call(axisBottom).call(g => styleAxis(g, 15));

xAxisG.append("text")
  .attr("x", xScale(dateTicks[0]))
  .attr("y", 38)
  .attr("text-anchor", "middle")
  .attr("font-size", 15)
  .attr("letter-spacing", 0.6)
  .attr("fill", "#000")
  .text("2026");

// frame
plot.append("rect")
  .attr("x", 0).attr("y", 0)
  .attr("width", width).attr("height", height)
  .attr("fill", "none")
  .attr("stroke", "#000")
  .attr("stroke-width", 3);

// legend box
const legend = svg.append("g").attr("class", "legendG");
legend.append("rect")
  .attr("x", 480).attr("y", 109)
  .attr("width", 239).attr("height", 89)
  .attr("fill", "#fff")
  .attr("stroke", "#000")
  .attr("stroke-width", 1.2);
legend.selectAll("text")
  .data(legendItems)
  .join("text")
  .attr("x", 600)
  .attr("y", (d, i) => 127 + i * 21.3)
  .attr("text-anchor", "middle")
  .attr("font-size", 17.5)
  .attr("fill", d => d.color)
  .attr("textLength", d => d.width)
  .attr("lengthAdjust", "spacing")
  .text(d => d.label);
</script>
</body>
</html>
